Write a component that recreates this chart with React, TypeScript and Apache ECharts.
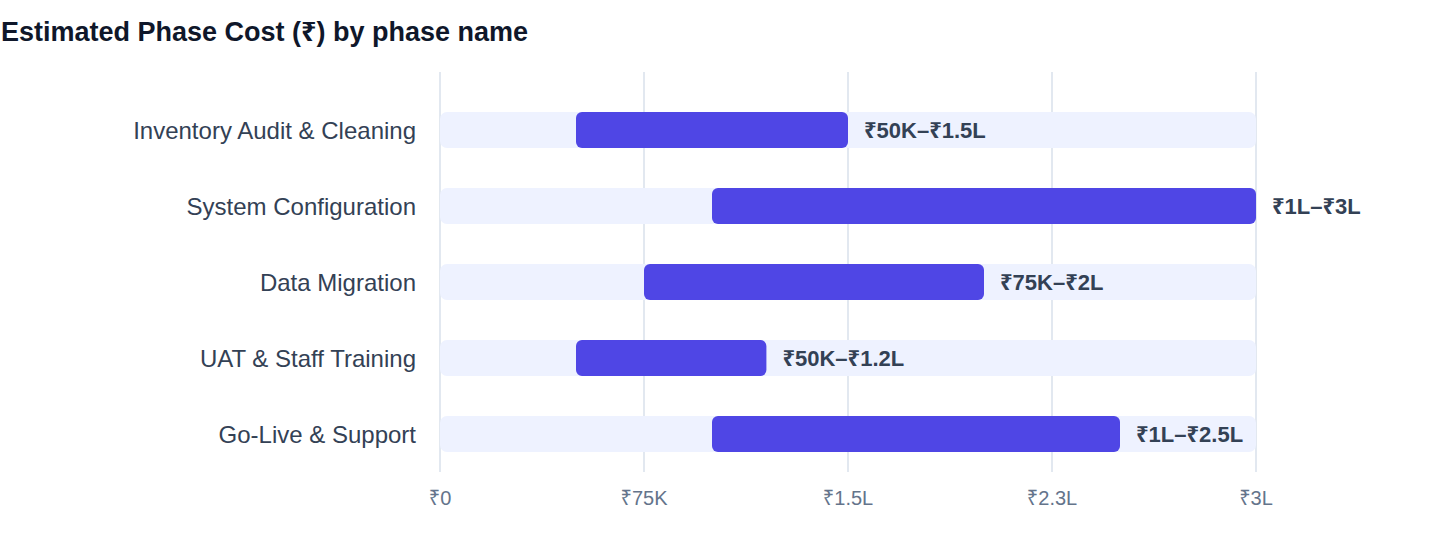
import { useEffect, useRef } from 'react';
import * as echarts from 'echarts';

const phases = [
  'Inventory Audit & Cleaning',
  'System Configuration',
  'Data Migration',
  'UAT & Staff Training',
  'Go-Live & Support',
];
const lowCost = [50000, 100000, 75000, 50000, 100000];
const highCost = [150000, 300000, 200000, 120000, 250000];
const rangeLabels = ['₹50K–₹1.5L', '₹1L–₹3L', '₹75K–₹2L', '₹50K–₹1.2L', '₹1L–₹2.5L'];
const tickLabels = ['₹0', '₹75K', '₹1.5L', '₹2.3L', '₹3L'];

const AXIS_MAX = 300000;
const AXIS_STEP = 75000;
const FONT = "'Liberation Sans', Arial, 'Noto Sans', sans-serif";

export default function App() {
  const chartRef = useRef<HTMLDivElement>(null);

  useEffect(() => {
    document.body.style.margin = '0';
    if (!chartRef.current) return;
    const chart = echarts.init(chartRef.current, undefined, { renderer: 'svg' });

    const option: echarts.EChartsOption = {
      animation: false,
      textStyle: { fontFamily: FONT },
      title: {
        text: 'Estimated Phase Cost (₹) by phase name',
        left: 1,
        top: 18,
        padding: 0,
        textStyle: { fontSize: 27, fontWeight: 'bold', color: '#0f172a', fontFamily: FONT },
      },
      grid: [
        { left: 440, right: 184, top: 92, bottom: 88 },
        // thin strip above the bars so grid lines reach up like the original
        { left: 440, right: 184, top: 72, height: 20 },
      ],
      xAxis: [
        {
          type: 'value',
          gridIndex: 0,
          min: 0,
          max: AXIS_MAX,
          interval: AXIS_STEP,
          axisLine: { show: false },
          axisTick: { show: false },
          splitLine: { lineStyle: { color: '#e2e8f0', width: 2 } },
          axisLabel: {
            margin: 16,
            fontSize: 20,
            color: '#64748b',
            formatter: (v: number) => tickLabels[Math.round(v / AXIS_STEP)] ?? '',
          },
        },
        {
          type: 'value',
          gridIndex: 1,
          min: 0,
          max: AXIS_MAX,
          interval: AXIS_STEP,
          axisLine: { show: false },
          axisTick: { show: false },
          axisLabel: { show: false },
          splitLine: { lineStyle: { color: '#e2e8f0', width: 2 } },
        },
      ],
      yAxis: [
        {
          type: 'category',
          gridIndex: 0,
          data: phases,
          inverse: true,
          axisLine: { show: false },
          axisTick: { show: false },
          axisLabel: { margin: 24, fontSize: 24, color: '#334155' },
        },
        {
          type: 'category',
          gridIndex: 1,
          data: [''],
          show: false,
        },
      ],
      series: [
        {
          type: 'bar',
          stack: 'range',
          data: lowCost,
          barWidth: 36,
          itemStyle: { color: 'transparent' },
          showBackground: true,
          backgroundStyle: { color: '#eef2ff', borderRadius: 7 },
          silent: true,
        },
        {
          type: 'bar',
          stack: 'range',
          data: highCost.map((h, i) => h - lowCost[i]),
          barWidth: 36,
          itemStyle: { color: '#4f46e5', borderRadius: 6 },
          label: {
            show: true,
            position: 'right',
            distance: 16,
            fontSize: 22,
            fontWeight: 'bold',
            color: '#334155',
            formatter: (p: any) => rangeLabels[p.dataIndex],
          },
        },
      ],
    };

    chart.setOption(option);
    return () => {
      chart.dispose();
    };
  }, []);

  return <div ref={chartRef} style={{ width: 1440, height: 560 }} />;
}
